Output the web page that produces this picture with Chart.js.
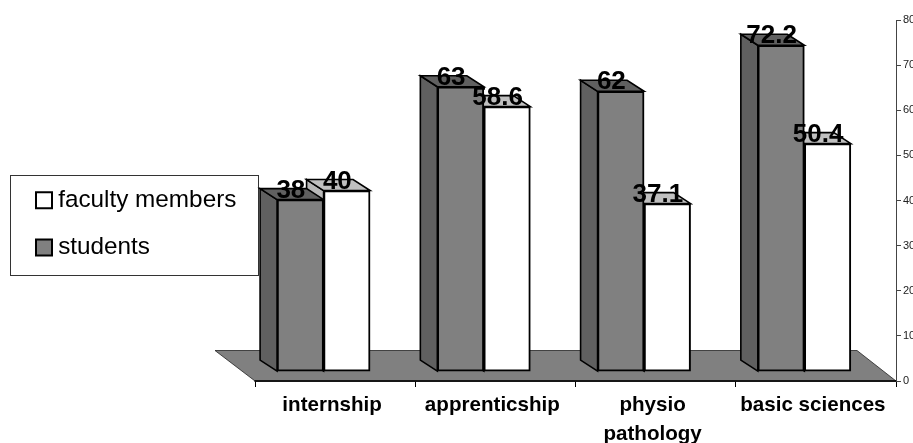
<!DOCTYPE html>
<html><head><meta charset="utf-8">
<style>html,body{margin:0;padding:0;background:#fff}#w{width:913px;height:443px;position:relative;overflow:hidden}canvas{display:block}</style>
<script src="https://cdn.jsdelivr.net/npm/chart.js@4"></script></head>
<body><div id="w"><canvas id="c" width="913" height="443"></canvas></div>
<script>
const categories = ['internship','apprenticship',['physio','pathology'],'basic sciences'];
const students = [38,63,62,72.2];
const faculty = [40,58.6,37.1,50.4];
const yTicks = [0,10,20,30,40,50,60,70,80];
const DX = 17, DY = 11;
const shades = {students:{side:'#606060',top:'#606060'}, faculty:{side:'#b8b8b8',top:'#c0c0c0'}};
const legendFrame = {left:10, top:175, width:248, height:100};

function face(ctx, pts, fill){
  ctx.beginPath();
  pts.forEach((p,i)=> i ? ctx.lineTo(p[0],p[1]) : ctx.moveTo(p[0],p[1]));
  ctx.closePath(); ctx.fillStyle = fill; ctx.fill();
  ctx.lineWidth = 1.6; ctx.strokeStyle = '#000'; ctx.stroke();
}
const scene = {
  id:'scene',
  afterLayout(chart){
    const l = chart.legend;
    l.left = 19; l.right = 258; l.top = 165; l.bottom = 330; l.width = 239; l.height = 165;
  },
  beforeDraw(chart){
    const ctx = chart.ctx, f = legendFrame;
    ctx.save();
    ctx.fillStyle='#fff'; ctx.strokeStyle='#333'; ctx.lineWidth=1;
    ctx.fillRect(f.left+.5,f.top+.5,f.width,f.height);
    ctx.strokeRect(f.left+.5,f.top+.5,f.width,f.height);
    ctx.restore();
  },
  beforeDatasetsDraw(chart){
    const ctx = chart.ctx, a = chart.chartArea, yb = chart.scales.yBars;
    ctx.save();
    // floor
    const by = chart.scales.y.getPixelForValue(0);
    const ty = by - 30.5;
    ctx.beginPath();
    ctx.moveTo(a.left,by); ctx.lineTo(a.right,by); ctx.lineTo(a.right-39,ty); ctx.lineTo(a.left-40,ty); ctx.closePath();
    ctx.fillStyle='#808080'; ctx.fill();
    ctx.lineWidth=.8; ctx.strokeStyle='#222'; ctx.stroke();
    ctx.beginPath(); ctx.moveTo(a.left,by); ctx.lineTo(a.right,by);
    ctx.lineWidth=1.6; ctx.strokeStyle='#000'; ctx.stroke();
    // 3D faces, back series first
    [[1,shades.faculty],[0,shades.students]].forEach(([di,s])=>{
      chart.getDatasetMeta(di).data.forEach(b=>{
        const L=b.x-b.width/2, R=b.x+b.width/2, T=b.y, B=yb.getPixelForValue(0);
        face(ctx,[[L,B],[L-DX,B-DY],[L-DX,T-DY],[L,T]],s.side);
        face(ctx,[[L,T],[L-DX,T-DY],[R-DX,T-DY],[R,T]],s.top);
      });
    });
    ctx.restore();
  },
  afterDatasetsDraw(chart){
    const ctx = chart.ctx;
    ctx.save();
    ctx.font='bold 26px "Liberation Sans", Arial, sans-serif';
    ctx.fillStyle='#000'; ctx.textAlign='center'; ctx.textBaseline='alphabetic';
    chart.data.datasets.forEach((ds,di)=>{
      chart.getDatasetMeta(di).data.forEach((b,j)=>{
        ctx.fillText(String(ds.data[j].y), b.x-9.5, b.y-2);
      });
    });
    ctx.restore();
  }
};
Chart.defaults.font.family = '"Liberation Sans", Arial, sans-serif';
new Chart(document.getElementById('c'),{
  type:'bar',
  data:{
    labels:categories,
    datasets:[
      {label:'students',data:students.map((v,i)=>({x:i,y:v})),xAxisID:'xBars',yAxisID:'yBars',backgroundColor:'#808080',borderColor:'#000',borderWidth:2,borderSkipped:false,barThickness:46.5},
      {label:'faculty members',data:faculty.map((v,i)=>({x:i,y:v})),xAxisID:'xBars',yAxisID:'yBars',backgroundColor:'#ffffff',borderColor:'#000',borderWidth:2,borderSkipped:false,barThickness:46.5}
    ]
  },
  options:{
    responsive:false, animation:false, devicePixelRatio:1,
    layout:{padding:{left:255,top:20,right:0,bottom:0}},
    plugins:{
      title:{display:false},tooltip:{enabled:false},
      legend:{
        position:'chartArea',align:'start',reverse:true,
        labels:{usePointStyle:true,pointStyle:'rect',boxWidth:4,boxHeight:16,padding:23,color:'#000',font:{size:24.3}}
      }
    },
    scales:{
      x:{type:'category',position:'bottom',offset:true,
        border:{color:'#000',width:1.6},
        grid:{offset:true,drawOnChartArea:false,drawTicks:true,tickLength:6,color:'#000'},
        ticks:{color:'#000',labelOffset:-3,maxRotation:0,autoSkip:false,padding:4,font:{size:20.6,weight:'bold',lineHeight:1.41}},
        afterFit(s){s.height=62;}
      },
      xBars:{type:'linear',display:false,offset:false,min:-0.428,max:3.572},
      y:{type:'linear',position:'right',min:0,max:80,
        afterBuildTicks(s){s.ticks=yTicks.map(v=>({value:v}));},
        border:{color:'#444',width:1},
        grid:{drawOnChartArea:false,tickLength:5,color:'#444'},
        ticks:{color:'#222',padding:2,font:{size:11}},
        afterFit(s){s.width=17;}
      },
      yBars:{type:'linear',display:false,min:-2.2,max:77.8}
    }
  },
  plugins:[scene]
});
</script></body></html>
